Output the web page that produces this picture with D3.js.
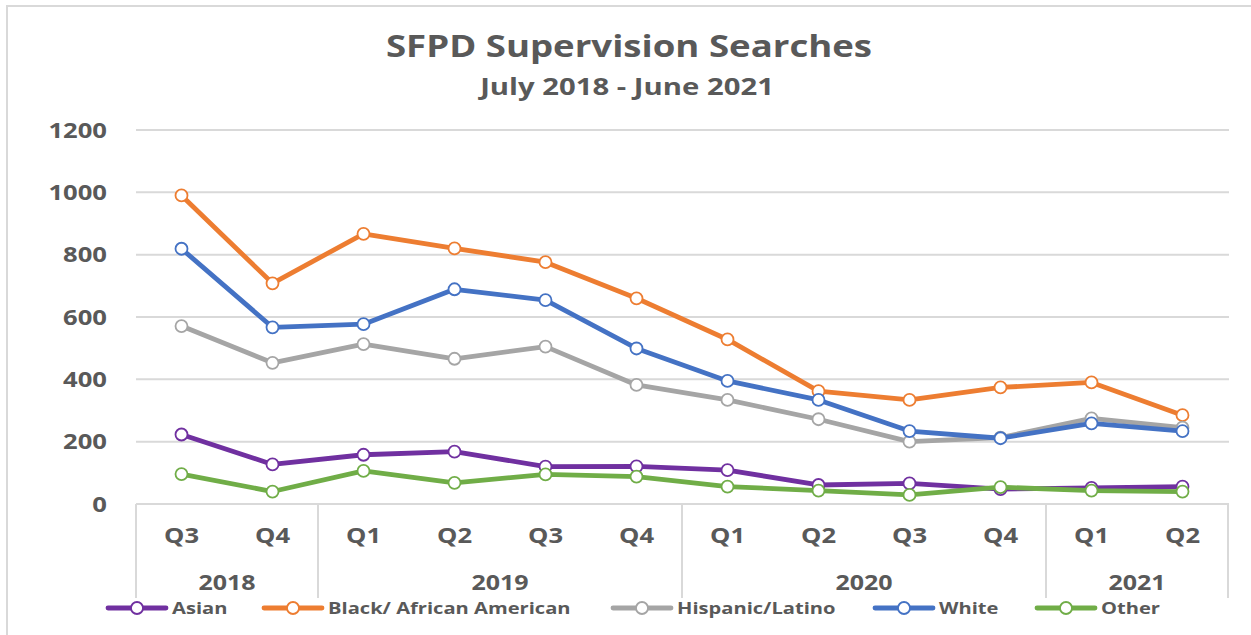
<!DOCTYPE html>
<html>
<head>
<meta charset="utf-8">
<script src="https://cdn.jsdelivr.net/npm/d3@7"></script>
<style>
  html, body { margin: 0; padding: 0; background: #fff; }
  svg { display: block; }
  text { font-family: "Open Sans", "Noto Sans", sans-serif; font-weight: 700; fill: #595959; }
</style>
</head>
<body>
<svg id="chart" width="1251" height="635"></svg>
<script>
// ---------- data ----------
const quarters = ["Q3","Q4","Q1","Q2","Q3","Q4","Q1","Q2","Q3","Q4","Q1","Q2"];
const years = ["2018","2019","2020","2021"];
const yearSpans = [2, 4, 4, 2];
const seriesNames = ["Asian","Black/ African American","Hispanic/Latino","White","Other"];
const asian    = [223,127,158,168,120,121,109, 61, 66, 48, 52, 56];
const black    = [990,708,867,820,776,660,528,362,334,374,390,285];
const hispanic = [571,453,513,466,505,382,334,272,200,213,275,245];
const white    = [819,567,577,689,654,499,395,334,234,211,259,234];
const other    = [ 96, 40,106, 68, 95, 88, 56, 43, 29, 54, 43, 40];
const yTicks = [0,200,400,600,800,1000,1200];
const titleText = "SFPD Supervision Searches";
const subtitleText = "July 2018 - June 2021";

const seriesValues = [asian, black, hispanic, white, other];
const colors = ["#7030A0","#ED7D31","#A5A5A5","#4472C4","#70AD47"];

// ---------- layout ----------
const svg = d3.select("#chart");
const SX = 1.22; // horizontal text stretch like the reference
const idx = d3.range(quarters.length);
const x = d3.scaleBand().domain(idx).range([136, 1228]).padding(0);
const y = d3.scaleLinear().domain([0, 1200]).range([504, 130]);
const grid = "#d9d9d9";

function stext(parent, px, py, txt, size, anchor, extra) {
  const g = parent.append("g").attr("transform", `translate(${px},${py}) scale(${SX},1)`);
  const t = g.append("text").attr("x", 0).attr("y", 0)
    .attr("text-anchor", anchor || "middle")
    .style("font-size", size + "px")
    .text(txt);
  if (extra) extra(t);
  return t;
}

// outer border (cropped chart area)
svg.append("path").attr("d", "M7,635 V6 H1251")
  .attr("fill", "none").attr("stroke", grid).attr("stroke-width", 2);

// titles
stext(svg, 629, 57, titleText, 30);
stext(svg, 627, 95, subtitleText, 24);

// gridlines + y labels
const gGrid = svg.append("g");
yTicks.forEach(t => {
  gGrid.append("line").attr("x1", 136).attr("x2", 1229)
    .attr("y1", y(t)).attr("y2", y(t))
    .attr("stroke", grid).attr("stroke-width", 2);
  stext(gGrid, 107, y(t) + 7.5, String(t), 21, "end");
});

// x-axis category separators
const step = x.step();
let acc = 0;
const bounds = [0];
yearSpans.forEach(s => { acc += s; bounds.push(acc); });
bounds.forEach(b => {
  const bx = 136 + b * step;
  svg.append("line").attr("x1", bx).attr("x2", bx).attr("y1", 504).attr("y2", 598)
    .attr("stroke", grid).attr("stroke-width", 2);
});

// quarter labels
quarters.forEach((q, i) => {
  stext(svg, x(i) + x.bandwidth() / 2, 543, q, 21);
});
// year labels
years.forEach((yr, k) => {
  const cx = 136 + (bounds[k] + bounds[k + 1]) / 2 * step;
  stext(svg, cx, 590, yr, 20.5);
});

// series lines + markers
const line = d3.line().x((d, i) => x(i) + x.bandwidth() / 2).y(d => y(d));
seriesValues.forEach((vals, s) => {
  const g = svg.append("g");
  g.append("path").datum(vals).attr("d", line)
    .attr("fill", "none").attr("stroke", colors[s]).attr("stroke-width", 4.8)
    .attr("stroke-linejoin", "round").attr("stroke-linecap", "round");
  g.selectAll("circle").data(vals).join("circle")
    .attr("cx", (d, i) => x(i) + x.bandwidth() / 2)
    .attr("cy", d => y(d))
    .attr("r", 6)
    .attr("fill", "#fff").attr("stroke", colors[s]).attr("stroke-width", 1.8);
});

// legend
const legendX = [108, 264, 613, 875, 1037];
const ly = 608;
seriesNames.forEach((name, s) => {
  const g = svg.append("g");
  const x0 = legendX[s];
  g.append("line").attr("x1", x0).attr("x2", x0 + 58).attr("y1", ly).attr("y2", ly)
    .attr("stroke", colors[s]).attr("stroke-width", 4.8).attr("stroke-linecap", "round");
  g.append("circle").attr("cx", x0 + 29).attr("cy", ly).attr("r", 6)
    .attr("fill", "#fff").attr("stroke", colors[s]).attr("stroke-width", 1.8);
  stext(g, x0 + 64, ly + 6, name, 16.5, "start");
});
</script>
</body>
</html>
